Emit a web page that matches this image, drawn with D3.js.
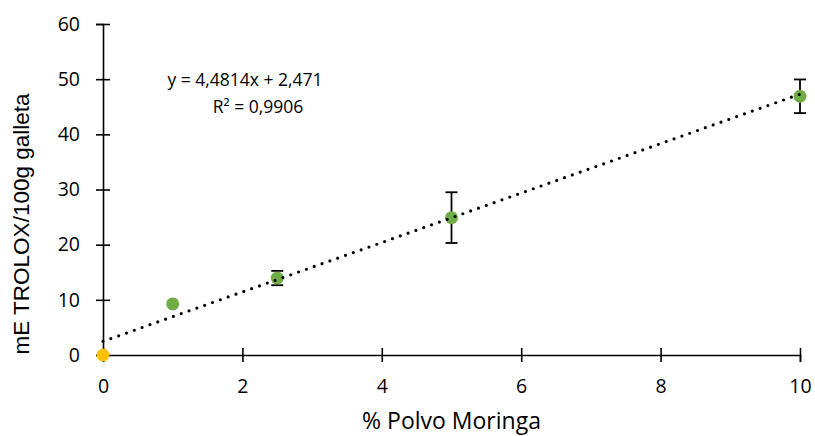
<!DOCTYPE html>
<html>
<head>
<meta charset="utf-8">
<script src="https://cdn.jsdelivr.net/npm/d3@7"></script>
<style>
  body { margin: 0; background: #fff; }
  svg text { font-family: "Open Sans", "Noto Sans", sans-serif; fill: #000; }
</style>
</head>
<body>
<svg id="chart" width="815" height="436"></svg>
<script>
// data
const moringa = [0, 1, 2.5, 5, 10];
const trolox = [0, 9.25, 13.95, 24.9, 46.9];
const errors = [0, 0, 1.3, 4.6, 3.05];
const pointColors = ["#FFC000", "#70AD47", "#70AD47", "#70AD47", "#70AD47"];
const xTicks = [0, 2, 4, 6, 8, 10];
const yTicks = [0, 10, 20, 30, 40, 50, 60];
const slope = 4.4814, intercept = 2.471;
const eqLines = ["y = 4,4814x + 2,471", "R² = 0,9906"];

const svg = d3.select("#chart");
const x = d3.scaleLinear().domain([0, 10]).range([103, 800]);
const y = d3.scaleLinear().domain([0, 60]).range([355, 24]);

// axes, with ticks crossing the line
const xAxis = svg.append("g")
    .attr("transform", `translate(0,${y(0)})`)
    .call(d3.axisBottom(x).tickValues(xTicks).tickSize(7).tickFormat(d3.format("d")));
xAxis.selectAll(".tick line").attr("y1", -7).attr("y2", 7);
xAxis.selectAll(".tick text").attr("y", 24.5).attr("dy", "0.71em");

const yAxis = svg.append("g")
    .attr("transform", `translate(${x(0)},0)`)
    .call(d3.axisLeft(y).tickValues(yTicks).tickSize(7));
yAxis.selectAll(".tick line").attr("x1", -7).attr("x2", 7);
yAxis.selectAll(".tick text").attr("x", -23);

svg.selectAll("g").attr("font-family", null).attr("font-size", null);
svg.selectAll(".domain").attr("stroke", "#000").attr("stroke-width", 1.6);
svg.selectAll(".tick line").attr("stroke", "#000").attr("stroke-width", 1.6);
svg.selectAll(".tick text").style("font-size", "19.5px");

// error bars
const errData = moringa.map((m, i) => ({x: m, y: trolox[i], e: errors[i]})).filter(d => d.e > 0);
const eb = svg.append("g").attr("stroke", "#000").attr("stroke-width", 1.8);
eb.selectAll("line.v").data(errData).join("line")
    .attr("class", "v")
    .attr("x1", d => x(d.x)).attr("x2", d => x(d.x))
    .attr("y1", d => y(d.y + d.e)).attr("y2", d => y(d.y - d.e));
eb.selectAll("line.top").data(errData).join("line")
    .attr("class", "top")
    .attr("x1", d => x(d.x) - 6).attr("x2", d => x(d.x) + 6)
    .attr("y1", d => y(d.y + d.e)).attr("y2", d => y(d.y + d.e));
eb.selectAll("line.bot").data(errData).join("line")
    .attr("class", "bot")
    .attr("x1", d => x(d.x) - 6).attr("x2", d => x(d.x) + 6)
    .attr("y1", d => y(d.y - d.e)).attr("y2", d => y(d.y - d.e));

// points
svg.append("g").selectAll("circle")
    .data(moringa)
    .join("circle")
    .attr("cx", d => x(d))
    .attr("cy", (d, i) => y(trolox[i]))
    .attr("r", 6.5)
    .attr("fill", (d, i) => pointColors[i]);

// linear trendline, dotted
const line = d3.line().x(d => x(d)).y(d => y(slope * d + intercept));
svg.append("path")
    .datum([0, 10])
    .attr("d", line)
    .attr("fill", "none")
    .attr("stroke", "#000")
    .attr("stroke-width", 3.2)
    .attr("stroke-linecap", "round")
    .attr("stroke-dasharray", "0 8.3");

// equation label
svg.append("text").attr("x", 245).attr("y", 86).attr("text-anchor", "middle")
    .style("font-size", "17.5px").text(eqLines[0]);
svg.append("text").attr("x", 258).attr("y", 113).attr("text-anchor", "middle")
    .style("font-size", "17.5px").text(eqLines[1]);

// axis titles
svg.append("text")
    .attr("transform", "translate(28.5,224) rotate(-90)")
    .attr("text-anchor", "middle")
    .style("font-family", '"Liberation Sans", Arial, sans-serif')
    .style("font-size", "22.5px")
    .text("mE TROLOX/100g galleta");
svg.append("text")
    .attr("x", (x(0) + x(10)) / 2)
    .attr("y", 429)
    .attr("text-anchor", "middle")
    .style("font-size", "23px")
    .text("% Polvo Moringa");
</script>
</body>
</html>
